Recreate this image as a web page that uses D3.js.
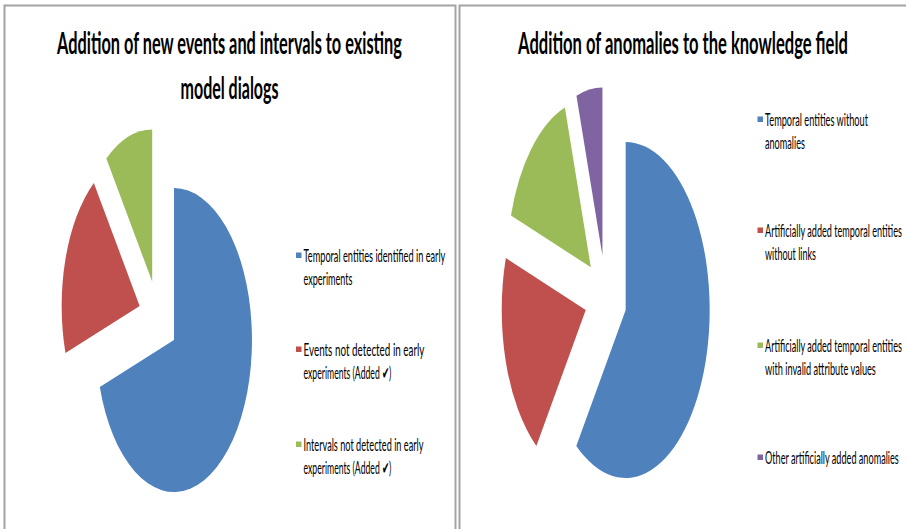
<!DOCTYPE html>
<html>
<head>
<meta charset="utf-8">
<script src="https://cdn.jsdelivr.net/npm/d3@7"></script>
<style>
  html, body { margin: 0; padding: 0; background: #fff; }
  svg { display: block; }
  text { font-family: Lato, "Open Sans", sans-serif; fill: #000; }
</style>
</head>
<body>
<svg id="chart" width="906" height="529"></svg>
<script>
// ---- data ----
const leftTitle = ["Addition of new events and intervals to existing", "model dialogs"];
const leftCategories = [
  ["Temporal entities identified in early", "experiments"],
  ["Events not detected in early", "experiments (Added \u2714)"],
  ["Intervals not detected in early", "experiments (Added \u2714)"]
];
const leftValues = [70, 20, 10];

const rightTitle = ["Addition of anomalies to the knowledge field"];
const rightCategories = [
  ["Temporal entities without", "anomalies"],
  ["Artificially added temporal entities", "without links"],
  ["Artificially added temporal entities", "with invalid attribute values"],
  ["Other artificially added anomalies"]
];
const rightValues = [60, 20, 15, 5];

const colors = ["#4F81BD", "#C0504D", "#9BBB59", "#8064A2"];

// ---- layout (not data) ----
const panels = [
  {
    title: leftTitle, cats: leftCategories, vals: leftValues,
    box: {x: 4.5, y: 5.5, w: 451, h: 560},
    titleX: 229.5, titleY: [54, 99], titleW: [345, 98], titleSize: 31,
    cx: 158.2, cy: 317.7, rx: 78, ry: 152, explode: 0.25,
    legX: 296, legTextX: 303.5, legY: [262, 356, 451], legW: [[142, 49], [121, 88], [120, 88]]
  },
  {
    title: rightTitle, cats: rightCategories, vals: rightValues,
    box: {x: 459.5, y: 5.5, w: 480, h: 560},
    titleX: 683, titleY: [54], titleW: [330], titleSize: 31,
    cx: 605.7, cy: 297, rx: 84, ry: 168, explode: 0.25,
    legX: 757.5, legTextX: 765, legY: [126, 237, 352, 464], legW: [[103, 40], [137, 51], [137, 111], [134]]
  }
];

const svg = d3.select("#chart");
const R = 100;

// draw text condensed horizontally to a target width
function condensedText(parent, str, x, y, width, size, weight, anchor, fill) {
  const t = parent.append("text")
    .attr("x", 0).attr("y", 0)
    .attr("text-anchor", anchor)
    .attr("font-size", size)
    .attr("font-weight", weight)
    .attr("fill", fill)
    .text(str);
  const natural = t.node().getComputedTextLength() || width;
  const k = width / natural;
  t.attr("transform", `translate(${x},${y}) scale(${k},1)`);
  return t;
}

panels.forEach(p => {
  const g = svg.append("g");
  g.append("rect")
    .attr("x", p.box.x).attr("y", p.box.y)
    .attr("width", p.box.w).attr("height", p.box.h)
    .attr("fill", "none").attr("stroke", "#a3a3a3").attr("stroke-width", 2);

  // title
  p.title.forEach((t, i) => {
    condensedText(g, t, p.titleX, p.titleY[i], p.titleW[i], p.titleSize, 700, "middle", "#000");
  });

  // pie (circular, then scaled into ellipse)
  const pie = d3.pie().sort(null).value(d => d).startAngle(0).endAngle(2 * Math.PI);
  const arc = d3.arc().innerRadius(0).outerRadius(R);
  const arcs = pie(p.vals);
  const pg = g.append("g")
    .attr("transform", `translate(${p.cx},${p.cy}) scale(${p.rx / R},${p.ry / R})`);
  pg.selectAll("path")
    .data(arcs)
    .join("path")
    .attr("d", arc)
    .attr("fill", (d, i) => colors[i])
    .attr("transform", d => {
      const a = (d.startAngle + d.endAngle) / 2;
      const off = p.explode * R;
      return `translate(${off * Math.sin(a)},${-off * Math.cos(a)})`;
    });

  // legend
  p.cats.forEach((lines, i) => {
    const y0 = p.legY[i];
    g.append("rect")
      .attr("x", p.legX).attr("y", y0 - 9.5)
      .attr("width", 5.5).attr("height", 5.5)
      .attr("fill", colors[i]);
    lines.forEach((ln, j) => {
      condensedText(g, ln, p.legTextX, y0 + j * 22.5, p.legW[i][j], 17, 400, "start", "#111");
    });
  });
});
</script>
</body>
</html>
